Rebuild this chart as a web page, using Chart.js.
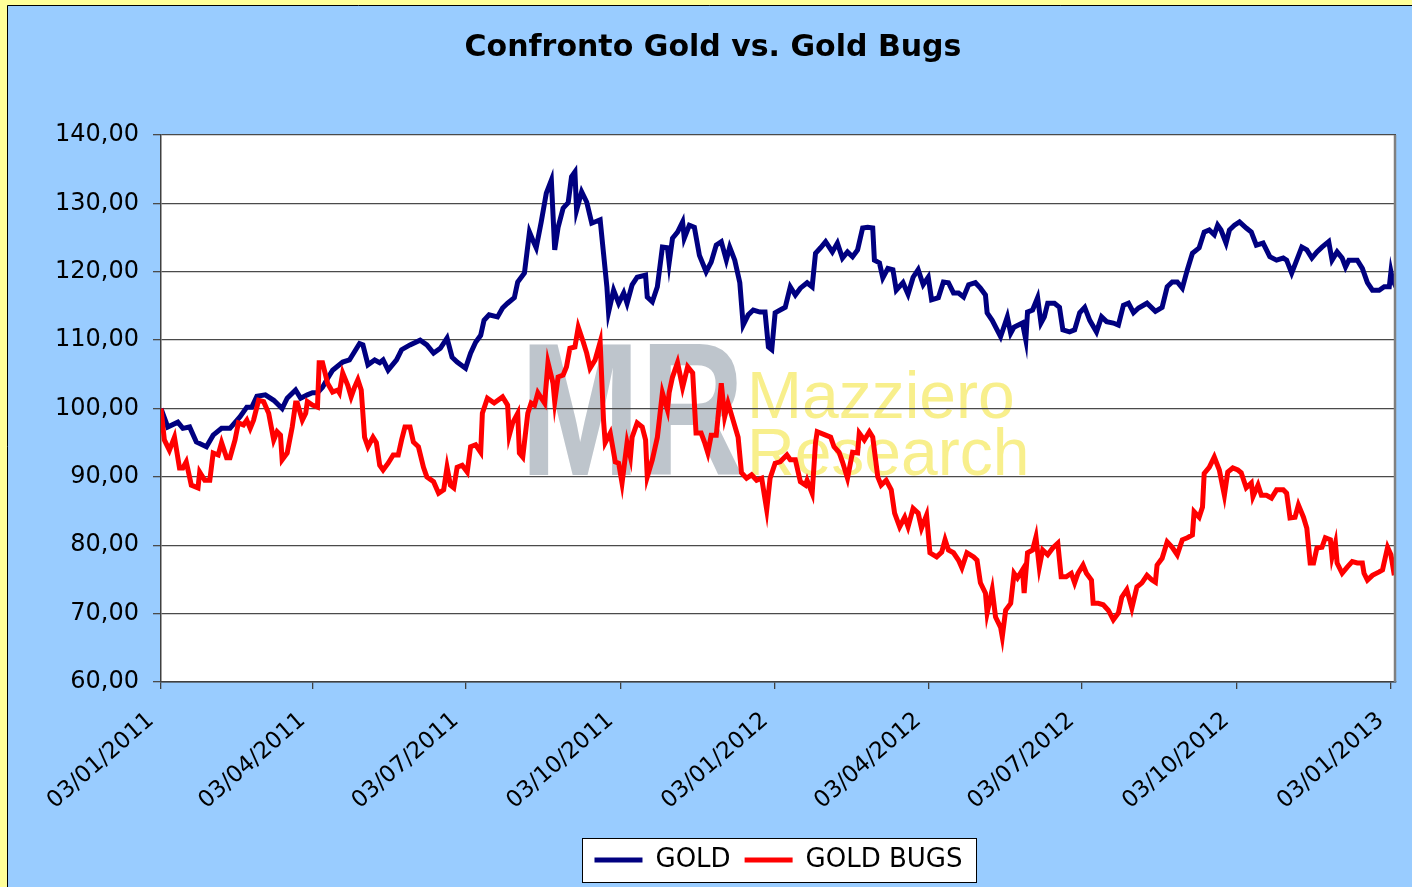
<!DOCTYPE html>
<html>
<head>
<meta charset="utf-8">
<script src="https://cdn.jsdelivr.net/npm/chart.js@4/dist/chart.umd.min.js"></script>
<style>
html,body{margin:0;padding:0;background:#FFFF99;overflow:hidden}
canvas{display:block}
</style>
</head>
<body>
<canvas id="c" width="1412" height="887"></canvas>
<script>
// ---------------- data ----------------
const chartTitle = 'Confronto Gold vs. Gold Bugs';
const seriesNames = ['GOLD', 'GOLD BUGS'];
const startDate = '03/01/2011';
const xTickLabels = ['03/01/2011','03/04/2011','03/07/2011','03/10/2011','03/01/2012','03/04/2012','03/07/2012','03/10/2012','03/01/2013'];
const yMin = 60, yMax = 140, yStep = 10;
const watermarkLogo = 'MR';
const watermarkName = ['Mazziero', 'Research'];

// days elapsed since startDate
const goldDay = [
  0,4,10,13,17,21,27,31,36,41,
  47,51,54,57,62,67,72,75,80,83,
  87,90,93,96,99,102,108,112,115,118,
  120,123,127,130,132,135,140,143,148,154,
  158,162,166,170,173,176,181,184,187,190,
  192,195,200,203,206,210,212,216,219,221,
  223,226,229,232,234,236,239,242,244,246,
  247,250,253,256,261,263,265,266,269,272,
  275,277,280,283,288,289,292,295,298,301,
  302,304,307,310,311,314,317,320,324,327,
  330,333,336,338,341,344,346,349,352,356,
  359,361,363,365,368,371,374,377,380,384,
  387,389,392,395,399,402,405,408,411,414,
  417,420,423,424,427,429,432,435,437,441,
  444,447,450,453,456,458,462,465,468,471,
  474,477,480,484,487,490,491,494,499,503,
  505,507,512,514,515,518,521,523,525,527,
  531,534,536,540,543,546,549,552,556,559,
  562,566,569,572,575,578,581,586,591,595,
  598,601,604,607,610,613,617,620,623,626,
  628,630,633,635,638,641,645,648,651,655,
  659,663,667,669,672,675,678,681,684,687,
  690,694,696,699,702,704,706,711,714,717,
  720,724,727,730,731,732,734
];
const goldVal = [
  100,97.3,98.0,97.1,97.3,95.1,94.4,96.1,97.1,97.1,
  98.8,100.2,100.2,101.8,102.0,101.2,100.0,101.5,102.7,101.5,
  102.0,102.3,102.3,103.1,104.4,105.6,106.8,107.1,108.3,109.5,
  109.3,106.4,107.1,106.7,107.1,105.6,107.1,108.6,109.3,110.0,
  109.3,108.1,108.8,110.3,107.5,106.8,105.9,108.1,109.7,110.7,
  112.9,113.7,113.4,114.7,115.4,116.2,118.5,119.8,125.8,124.6,
  123.5,127.3,131.5,133.4,123.2,126.5,129.3,130.1,133.9,134.6,
  129.0,131.7,130.2,127.1,127.6,122.7,117.8,114.1,117.3,115.4,
  116.9,115.4,118.1,119.2,119.5,116.3,115.6,117.8,123.6,123.5,
  121.3,124.9,125.8,127.3,124.9,126.8,126.5,122.4,120.0,121.4,
  123.9,124.4,121.7,123.6,121.7,118.4,112.2,113.7,114.4,114.1,
  114.1,109.0,108.6,114.0,114.4,114.8,117.8,116.6,117.6,118.4,
  117.8,122.7,123.5,124.4,122.9,124.2,122.0,122.9,122.2,123.2,
  126.4,126.5,126.4,121.7,121.3,119.1,120.5,120.3,117.3,118.4,
  116.7,119.2,120.3,118.1,119.2,115.9,116.2,118.5,118.4,116.9,
  116.9,116.3,118.1,118.4,117.6,116.6,114.0,112.9,110.5,113.4,
  111.0,111.9,112.5,110.0,114.1,114.4,116.2,112.5,113.4,115.4,
  115.4,114.8,111.5,111.2,111.5,114.0,114.8,112.9,111.2,113.4,
  112.7,112.5,112.2,115.1,115.4,114.0,114.7,115.4,114.2,114.8,
  117.8,118.5,118.5,117.6,120.3,122.7,123.5,125.8,126.1,125.4,
  126.8,126.1,124.2,126.1,126.8,127.3,126.4,125.8,123.9,124.2,
  122.2,121.7,122.0,121.7,119.8,121.7,123.6,123.2,122.0,122.9,
  123.6,124.4,121.7,122.9,122.0,120.7,121.7,121.7,120.5,118.4,
  117.3,117.3,117.8,117.8,120.0,118.8,117.8
];

const bugsDay = [
  0,2,5,8,11,13,15,18,22,23,
  26,29,31,34,36,39,41,44,46,49,
  51,53,55,58,61,64,67,69,71,72,
  75,78,80,81,84,86,87,90,93,94,
  96,99,102,105,106,108,111,113,115,117,
  119,121,123,126,128,130,132,135,138,141,
  143,145,148,150,153,156,158,162,165,168,
  170,172,174,176,179,182,184,187,190,191,
  194,198,203,206,207,209,212,213,215,218,
  220,222,224,228,230,233,234,236,239,241,
  243,246,248,251,253,255,258,261,263,264,
  267,270,272,274,277,279,280,283,286,288,
  289,292,295,298,301,302,304,307,310,313,
  316,318,321,323,325,327,330,333,335,337,
  340,343,345,348,351,354,357,360,362,365,
  368,372,374,377,380,383,384,387,389,390,
  395,398,400,403,405,408,411,414,415,418,
  421,423,426,428,431,434,436,439,442,444,
  447,450,452,455,457,461,464,466,468,471,
  474,476,479,483,485,487,490,491,494,496,
  499,500,502,505,507,509,512,513,515,518,
  520,522,524,527,530,533,535,538,541,543,
  545,548,550,553,554,557,560,563,566,569,
  571,574,577,580,583,586,589,591,592,595,
  598,601,604,607,610,613,614,617,619,620,
  623,626,629,632,634,637,640,642,645,648,
  649,652,654,657,660,663,667,669,671,674,
  676,679,681,683,685,687,690,692,695,696,
  698,699,702,705,708,711,714,715,717,720,
  724,726,729,731,733
];
const bugsVal = [
  100,95.4,93.9,95.8,91.3,91.3,92.2,88.8,88.4,90.7,
  89.5,89.5,93.5,93.2,95.0,92.8,92.8,95.4,97.9,97.6,
  98.3,97.1,98.3,101.2,101.0,99.3,95.4,96.6,96.1,92.5,
  93.5,97.3,100.8,100.8,98.3,99.3,101.0,100.5,100.2,106.7,
  106.7,103.7,102.4,102.7,102.3,105.2,103.4,101.7,103.1,104.2,
  102.7,95.8,94.4,95.8,95.0,91.7,91.0,92.0,93.2,93.2,
  95.4,97.3,97.3,95.1,94.4,91.4,90.0,89.3,87.6,88.1,
  91.4,88.8,88.4,91.4,91.7,90.7,94.4,94.7,93.6,99.3,
  101.5,100.8,101.7,100.5,96.1,97.9,99.3,93.5,92.9,99.3,
  100.8,100.5,102.3,100.8,106.7,103.7,101.0,104.6,104.9,106.1,
  108.8,109.0,111.9,109.7,108.1,105.9,107.1,109.7,98.3,95.0,
  96.4,92.2,92.0,89.1,95.0,92.9,95.8,97.9,97.3,95.4,
  90.0,92.5,95.8,102.3,99.8,102.3,104.6,106.7,103.1,106.1,
  105.2,96.4,96.4,95.1,93.5,96.1,96.1,103.7,98.8,100.8,
  98.3,95.8,90.6,89.8,90.3,89.5,89.8,85.2,89.8,92.0,
  92.2,93.2,92.5,92.5,89.3,88.8,89.5,87.6,95.0,96.6,
  96.1,95.8,94.4,93.6,92.2,89.8,93.6,93.5,96.4,95.4,
  96.6,95.8,90.0,88.8,89.5,88.1,84.7,82.7,84.1,82.7,
  85.4,84.7,82.5,84.4,78.9,78.3,79.0,80.8,79.3,78.9,
  77.8,76.7,78.9,78.3,77.8,74.5,73.0,70.1,73.5,69.5,
  68.0,66.6,70.5,71.5,75.9,75.2,76.4,73.0,78.9,79.3,
  81.2,76.8,79.3,78.6,79.6,80.3,75.4,75.4,75.9,74.5,
  75.9,77.1,75.9,74.9,71.5,71.5,71.3,70.5,69.1,70.1,
  72.4,73.5,70.8,73.9,74.5,75.6,74.9,74.6,77.1,78.1,
  80.5,79.7,78.6,80.8,81.1,81.5,84.9,84.1,85.6,90.5,
  91.4,92.9,91.0,87.3,90.7,91.3,91.0,90.6,88.4,89.1,
  87.1,88.8,87.3,87.3,86.9,88.1,88.1,87.6,84.0,84.1,
  85.9,84.1,82.5,77.4,77.4,79.6,79.7,81.1,80.8,78.3,
  80.3,77.4,75.9,76.8,77.6,77.4,77.4,75.9,74.9,75.6,
  76.1,76.4,79.7,78.6,75.6
];

// ---------------- helpers ----------------
function dayOf(s) {
  const [d, m, y] = s.split('/').map(Number);
  const [d0, m0, y0] = startDate.split('/').map(Number);
  return Math.round((Date.UTC(y, m - 1, d) - Date.UTC(y0, m0 - 1, d0)) / 86400000);
}
const xTickDays = xTickLabels.map(dayOf);
function toXY(days, vals) { return days.map((d, i) => ({x: d, y: vals[i]})); }

const FONT = '"DejaVu Sans", "Liberation Sans", Arial, sans-serif';
Chart.defaults.font.family = FONT;
Chart.defaults.color = '#000';

const decorPlugin = {
  id: 'decor',
  afterLayout(chart) {
    const lg = chart.legend, a = chart.chartArea;
    if (lg) { lg.left = a.left; lg.right = a.right; }
  },
  beforeDraw(chart) {
    const ctx = chart.ctx, a = chart.chartArea, W = chart.width, H = chart.height;
    ctx.save();
    ctx.fillStyle = '#FFFF99';
    ctx.fillRect(0, 0, W, H);
    ctx.fillStyle = '#99CCFF';
    ctx.fillRect(7, 5, W - 7, H - 5);
    ctx.strokeStyle = '#000';
    ctx.lineWidth = 1;
    ctx.beginPath();
    ctx.moveTo(7.5, H); ctx.lineTo(7.5, 5.5); ctx.lineTo(W, 5.5);
    ctx.stroke();
    // plot area
    ctx.fillStyle = '#FFFFFF';
    ctx.fillRect(a.left, a.top, a.right - a.left, a.bottom - a.top);
    // watermark
    ctx.save();
    ctx.beginPath(); ctx.rect(a.left, a.top, a.right - a.left, a.bottom - a.top); ctx.clip();
    ctx.fillStyle = '#BEC5CC';
    ctx.font = 'bold 190px "Liberation Sans", Arial, sans-serif';
    ctx.textBaseline = 'alphabetic';
    ctx.translate(520, 475); ctx.scale(0.76, 1);
    ctx.fillText(watermarkLogo, 0, 0);
    ctx.restore();
    ctx.fillStyle = 'rgb(248,239,140)';
    ctx.font = '66px "Liberation Sans", Arial, sans-serif';
    ctx.textBaseline = 'alphabetic';
    ctx.fillText(watermarkName[0], 747, 418);
    ctx.fillText(watermarkName[1], 747, 475);
    // legend frame
    const lg = chart.legend;
    if (lg && lg.legendHitBoxes && lg.legendHitBoxes.length) {
      const hb = lg.legendHitBoxes;
      const l = Math.round(Math.min(...hb.map(h => h.left)) - 12);
      const r = Math.round(Math.max(...hb.map(h => h.left + h.width)) + 13);
      const cy = Math.round(hb[0].top + hb[0].height / 2);
      ctx.fillStyle = '#FFFFFF';
      ctx.fillRect(l, cy - 22, r - l, 44);
      ctx.strokeStyle = '#000';
      ctx.lineWidth = 1;
      ctx.strokeRect(l + 0.5, cy - 22 + 0.5, r - l, 44);
    }
    ctx.restore();
  },
  afterDatasetsDraw(chart) {
    const ctx = chart.ctx, a = chart.chartArea;
    ctx.save();
    ctx.strokeStyle = '#808080';
    ctx.lineWidth = 2.5;
    ctx.beginPath();
    ctx.moveTo(a.right - 1, a.top); ctx.lineTo(a.right - 1, a.bottom);
    ctx.stroke();
    ctx.restore();
  }
};

new Chart(document.getElementById('c'), {
  type: 'line',
  data: {
    datasets: [
      { label: seriesNames[0], data: toXY(goldDay, goldVal), borderColor: '#000080', backgroundColor: '#000080',
        borderWidth: 5, pointRadius: 0, pointHoverRadius: 0, tension: 0, order: 2 },
      { label: seriesNames[1], data: toXY(bugsDay, bugsVal), borderColor: '#FF0000', backgroundColor: '#FF0000',
        borderWidth: 5, pointRadius: 0, pointHoverRadius: 0, tension: 0, order: 1 }
    ]
  },
  options: {
    responsive: false,
    animation: false,
    devicePixelRatio: 1,
    layout: { padding: { left: 14, right: 0, top: 0, bottom: 4 } },
    plugins: {
      title: {
        display: true, text: chartTitle, color: '#000',
        font: { size: 30, weight: 'bold', family: FONT },
        padding: { top: 30, bottom: 69 }
      },
      legend: {
        display: true, position: 'bottom', align: 'center',
        labels: {
          boxWidth: 48, boxHeight: 5, padding: 14, color: '#000',
          font: { size: 26, family: FONT },
          sort: (a, b) => a.datasetIndex - b.datasetIndex,
          generateLabels(chart) {
            const items = Chart.defaults.plugins.legend.labels.generateLabels(chart);
            items.forEach(it => { it.lineWidth = 0; it.fillStyle = it.strokeStyle; });
            return items;
          }
        }
      },
      tooltip: { enabled: false }
    },
    scales: {
      x: {
        type: 'linear', min: 0, max: 734,
        afterBuildTicks(s) { s.ticks = xTickDays.map(v => ({ value: v })); },
        afterFit(s) { s.height = 151; s.paddingLeft = 0; s.paddingRight = 16; },
        ticks: {
          autoSkip: false, minRotation: 41, maxRotation: 41, padding: 18, labelOffset: -10,
          color: '#000', font: { size: 23, family: FONT },
          callback: (v, i) => xTickLabels[i]
        },
        grid: { drawOnChartArea: false, drawTicks: true, tickLength: 7, color: '#404040', lineWidth: 1.3 },
        border: { display: true, color: '#404040', width: 1.5 }
      },
      y: {
        min: yMin, max: yMax,
        afterFit(s) { s.width = 147; },
        ticks: {
          stepSize: yStep, padding: 14, color: '#000', font: { size: 24, family: FONT },
          callback: v => v.toFixed(2).replace('.', ',')
        },
        grid: { color: '#4a4a4a', lineWidth: 1.3, tickLength: 8, drawTicks: true },
        border: { display: true, color: '#404040', width: 1.5 }
      }
    }
  },
  plugins: [decorPlugin]
});
</script>
</body>
</html>
